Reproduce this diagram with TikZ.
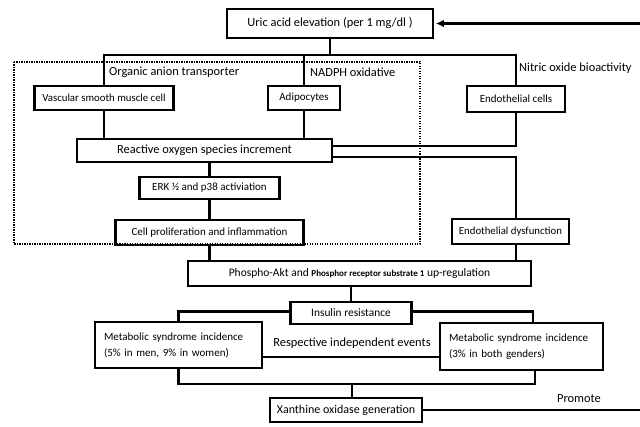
\documentclass[tikz,border=0pt]{standalone}
\usepackage{fontspec}
\setmainfont{Carlito}
\usetikzlibrary{arrows.meta}
\newcommand{\fsz}[1]{\fontsize{#1}{#1}\selectfont}
\begin{document}
\begin{tikzpicture}[x=1pt,y=-1pt,
  box/.style={draw,line width=2.6pt,inner sep=0pt,font=\fsz{12.4}},
  sbox/.style={box,font=\fsz{11}},
  conn/.style={line width=2.6pt},
  lbl/.style={font=\fsz{12.4},inner sep=0pt}]
\useasboundingbox[fill=white] (0,0) rectangle (640,427);
% dotted frame
\draw[line width=1.3pt,dash pattern=on 1.2pt off 1.3pt] (14,62) rectangle (420,244);
% nodes
\node[box,minimum width=206pt,minimum height=29pt] (top) at (330,23.5) {Uric acid elevation (per 1 mg/dl )};
\node[sbox,font=\fsz{10.8},minimum width=139pt,minimum height=24pt] (vsmc) at (104,98) {Vascular smooth muscle cell};
\node[sbox,minimum width=72pt,minimum height=24pt] (adipo) at (304,98) {Adipocytes};
\node[sbox,minimum width=98pt,minimum height=26pt] (endo) at (516,99) {Endothelial cells};
\node[box,minimum width=255pt,minimum height=23pt] (ros) at (204.5,150.5) {Reactive oxygen species increment};
\node[sbox,minimum width=140pt,minimum height=22pt] (erk) at (209.5,188) {ERK ½ and p38 activiation};
\node[sbox,minimum width=188pt,minimum height=25pt] (cp) at (209.5,232.5) {Cell proliferation and inflammation};
\node[sbox,font=\fsz{10.8},minimum width=117pt,minimum height=25pt] (ed) at (510.5,231.5) {Endothelial dysfunction};
\node[sbox,font=\fsz{11.5},minimum width=343pt,minimum height=25pt] (phos) at (359.5,273.5) {Phospho-Akt and {\fsz{9}\bfseries Phosphor receptor substrate 1} up-regulation};
\node[sbox,font=\fsz{11.4},minimum width=121pt,minimum height=22pt] (ins) at (351,313) {Insulin resistance};
\node[sbox,minimum width=167pt,minimum height=46pt,align=left,text width=149pt,font=\fontsize{11}{16}\selectfont] (ms1) at (178.5,345) {Metabolic syndrome incidence\\(5\% in men, 9\% in women)};
\node[sbox,minimum width=163pt,minimum height=47pt,align=left,text width=145pt,font=\fontsize{11}{16}\selectfont] (ms2) at (521.5,346.5) {Metabolic syndrome incidence\\(3\% in both genders)};
\node[sbox,font=\fsz{12},minimum width=152pt,minimum height=24pt] (xan) at (346,410) {Xanthine oxidase generation};
% labels
\node[lbl,anchor=west] (l1) at (109,72.5) {Organic anion transporter};
\node[lbl,anchor=west] (l2) at (310,72.5) {NADPH oxidative};
\node[lbl,anchor=west] (l3) at (519,68) {Nitric oxide bioactivity};
\node[lbl] (l4) at (352,343) {Respective independent events};
\node[lbl] (l5) at (579,399) {Promote};
% coordinates
\coordinate (jt) at (330,55);
\coordinate (ms2c) at (533,0);
\coordinate (ms2b) at (535,0);
\coordinate (jb) at (352,384);
\coordinate (rt) at (642,0);
% connectors
\draw[conn] (top.south) -- (jt);
\draw[conn] (vsmc.north) |- (jt) -| (endo.north);
\draw[conn] (adipo.north) -- (adipo.north |- jt);
\draw[conn] (vsmc.south) -- (vsmc.south |- ros.north);
\draw[conn] (adipo.south) -- (adipo.south |- ros.north);
\draw[conn] (endo.south) |- ([yshift=4.5pt]ros.east);
\draw[conn] ([yshift=-6.5pt]ros.east) -| (ed.north -| endo.south);
\draw[conn] (ros.south -| erk.north) -- (erk.north);
\draw[conn] (erk.south) -- (cp.north);
\draw[conn] (cp.south) -- (cp.south |- phos.north);
\draw[conn] (ed.south -| endo.south) -- (phos.north -| endo.south);
\draw[conn] (ins.north |- phos.south) -- (ins.north);
\draw[conn] ([yshift=1.5pt]ins.west) -| (ms1.north);
\draw[conn] ([yshift=1.5pt]ins.east) -| (ms2.north -| ms2c);
\draw[conn] (ms1.south) |- (jb) -| (ms2.south -| ms2b);
\draw[conn] (jb) -- (jb |- xan.north);
\draw[line width=1.3pt] ([yshift=-12pt]ms1.east) -- ([yshift=-10.5pt]ms2.west);
\draw[line width=2.2pt,-{Latex[length=8pt,width=7.5pt]}] (xan.east) -- (xan.east -| rt) -- (top.east -| rt) -- ([xshift=1.5pt]top.east);
\end{tikzpicture}
\end{document}
